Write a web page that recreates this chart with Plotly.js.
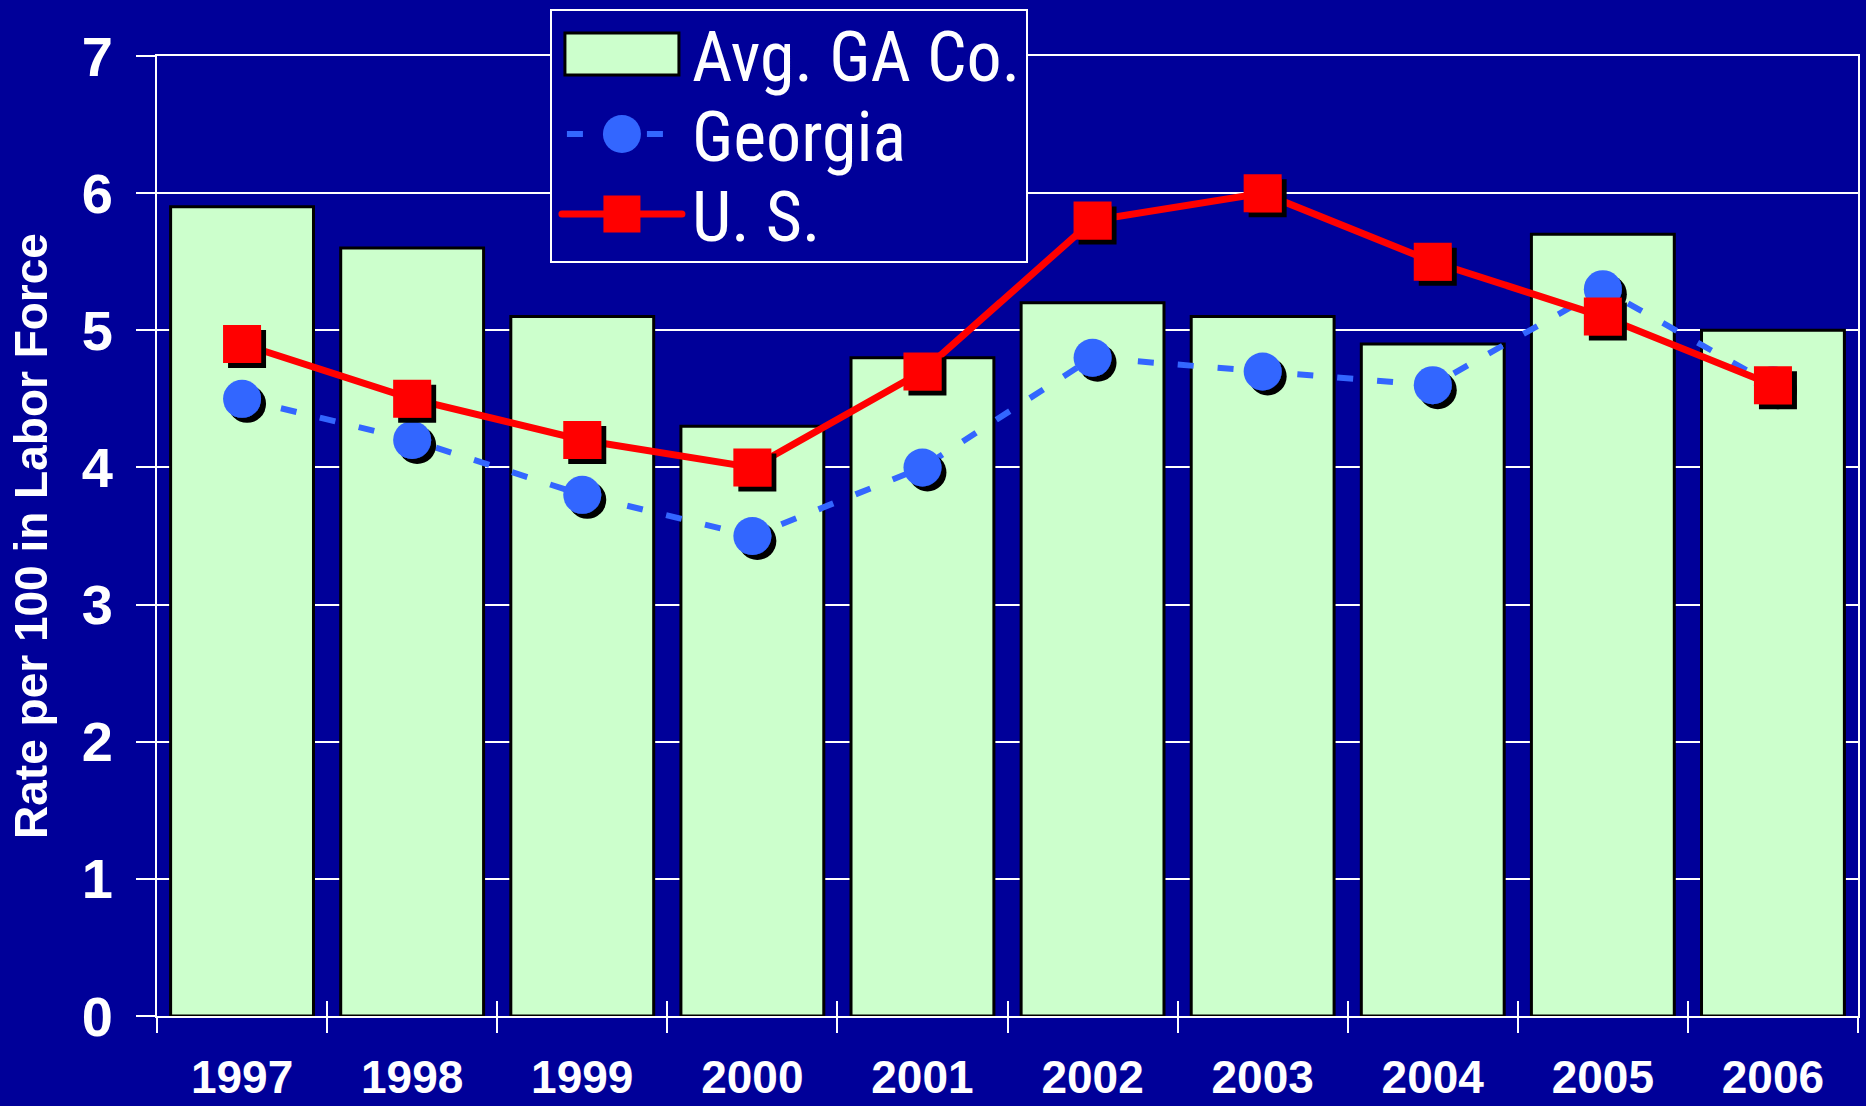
<!DOCTYPE html>
<html>
<head>
<meta charset="utf-8">
<script src="https://cdn.plot.ly/plotly-3.0.1.min.js"></script>
<style>
html,body{margin:0;padding:0;background:#000099;}
#chart{width:1866px;height:1106px;}
</style>
</head>
<body>
<div id="chart"></div>
<script>
// ---- data ----
var years = ["1997","1998","1999","2000","2001","2002","2003","2004","2005","2006"];
var avgGACo = [5.9, 5.6, 5.1, 4.3, 4.8, 5.2, 5.1, 4.9, 5.7, 5.0];
var georgia = [4.5, 4.2, 3.8, 3.5, 4.0, 4.8, 4.7, 4.6, 5.3, 4.6];
var us = [4.9, 4.5, 4.2, 4.0, 4.7, 5.8, 6.0, 5.5, 5.1, 4.6];
var seriesNames = ["Avg. GA Co.", "Georgia", "U. S."];
var yTickVals = [0,1,2,3,4,5,6,7];
var yTitle = "Rate per 100 in Labor Force";

var NAVY = "#000099";
var boldFont = "Liberation Sans, Arial, sans-serif";
var narrowFont = "Liberation Sans Narrow, Arial Narrow, Roboto Condensed, Liberation Sans, sans-serif";

var traces = [
  {
    type: "bar", name: seriesNames[0], x: years, y: avgGACo,
    xaxis: "x", yaxis: "y",
    marker: {color: "#CCFFCC", line: {color: "#000000", width: 3}}
  },
  {
    type: "scatter", mode: "lines+markers", name: seriesNames[1], x: years, y: georgia,
    xaxis: "x2", yaxis: "y",
    line: {color: "#3366FF", width: 6, dash: "16px,24px"},
    marker: {symbol: "circle", size: 38, color: "#3366FF", line: {width: 0}}
  },
  {
    type: "scatter", mode: "lines+markers", name: seriesNames[2], x: years, y: us,
    xaxis: "x2", yaxis: "y",
    line: {color: "#FF0000", width: 7},
    marker: {symbol: "square", size: 38, color: "#FF0000", line: {width: 0}}
  }
];

var layout = {
  width: 1866, height: 1106,
  paper_bgcolor: NAVY, plot_bgcolor: NAVY,
  margin: {l: 157, r: 8, t: 56, b: 90, pad: 0},
  bargap: 0.16,
  showlegend: true,
  legend: {
    x: 0.231, y: 1.049, xanchor: "left", yanchor: "top",
    bgcolor: NAVY, bordercolor: "#FFFFFF", borderwidth: 2,
    font: {family: narrowFont, size: 70, color: "#FFFFFF"},
    itemwidth: 130, traceorder: "normal"
  },
  xaxis: {
    type: "category", range: [-0.5, 9.5], categoryorder: "array", categoryarray: years,
    showgrid: false, zeroline: false,
    showline: true, linecolor: "#FFFFFF", linewidth: 2, mirror: true,
    ticks: "outside", tickson: "boundaries", ticklen: 15, tickwidth: 2, tickcolor: "#FFFFFF",
    tickfont: {family: boldFont, size: 46, color: "#FFFFFF", weight: "bold"},
    ticklabelstandoff: 20
  },
  xaxis2: {
    type: "category", range: [-0.5, 9.5], categoryorder: "array", categoryarray: years,
    overlaying: "x", anchor: "y",
    showgrid: false, zeroline: false, showline: false,
    ticks: "inside", tickson: "boundaries", ticklen: 15, tickwidth: 2, tickcolor: "#FFFFFF",
    showticklabels: false
  },
  yaxis: {
    range: [0, 7], tickvals: yTickVals, ticktext: yTickVals.map(String),
    showgrid: true, gridcolor: "#FFFFFF", gridwidth: 2, zeroline: false,
    showline: true, linecolor: "#FFFFFF", linewidth: 2, mirror: true,
    ticks: "outside", ticklen: 19, tickwidth: 2, tickcolor: "#FFFFFF",
    tickfont: {family: boldFont, size: 56, color: "#FFFFFF", weight: "bold"},
    ticklabelstandoff: 12,
    title: {text: yTitle, font: {family: boldFont, size: 46, color: "#FFFFFF", weight: "bold"}, standoff: 20}
  }
};

Plotly.newPlot("chart", traces, layout, {displayModeBar: false, staticPlot: true}).then(function(gd){
  // drop shadow for data markers
  var svg = gd.querySelector(".main-svg");
  var defs = svg.querySelector("defs");
  var ns = "http://www.w3.org/2000/svg";
  var f = document.createElementNS(ns, "filter");
  f.setAttribute("id", "mshadow");
  f.setAttribute("x", "-20%"); f.setAttribute("y", "-20%");
  f.setAttribute("width", "140%"); f.setAttribute("height", "140%");
  var ds = document.createElementNS(ns, "feDropShadow");
  ds.setAttribute("dx", "5"); ds.setAttribute("dy", "5");
  ds.setAttribute("stdDeviation", "0");
  ds.setAttribute("flood-color", "#000000"); ds.setAttribute("flood-opacity", "1");
  f.appendChild(ds); defs.appendChild(f);
  gd.querySelectorAll(".scatterlayer .trace .points").forEach(function(g){
    g.setAttribute("filter", "url(#mshadow)");
  });

  // enlarge legend symbols and tighten row spacing
  var W = layout.legend.itemwidth;
  var c = (W + 10) / 2;
  var rowGap = 80, firstRow = 45;
  var legTraces = gd.querySelectorAll(".legend .traces");
  legTraces.forEach(function(t, i){
    var tr = t.getAttribute("transform") || "";
    var m = tr.match(/translate\(\s*([-\d.]+)[ ,]+([-\d.]+)\s*\)/);
    var tx = m ? parseFloat(m[1]) : 0;
    t.setAttribute("transform", "translate(" + tx + "," + (firstRow + i * rowGap) + ")");
    var pts = t.querySelectorAll(".legendpoints path");
    var lines = t.querySelectorAll(".legendlines path");
    if (i === 0) {
      pts.forEach(function(p){ p.setAttribute("d", "M57,21H-57V-21H57Z"); });
    } else if (i === 1) {
      pts.forEach(function(p){ p.setAttribute("d", "M19,0A19,19 0 1,1 0,-19A19,19 0 0,1 19,0Z"); });
      lines.forEach(function(l){ l.setAttribute("d", "M" + (c - 55) + ",0h105"); });
    } else {
      pts.forEach(function(p){ p.setAttribute("d", "M18.5,18.5H-18.5V-18.5H18.5Z"); });
      lines.forEach(function(l){ l.setAttribute("d", "M" + (c - 60) + ",0h120"); l.style.strokeLinecap = "round"; });
    }
  });
  var bg = gd.querySelector(".legend rect.bg");
  if (bg) { bg.setAttribute("height", String(firstRow * 2 + rowGap * 2 + 2)); }
});
</script>
</body>
</html>
